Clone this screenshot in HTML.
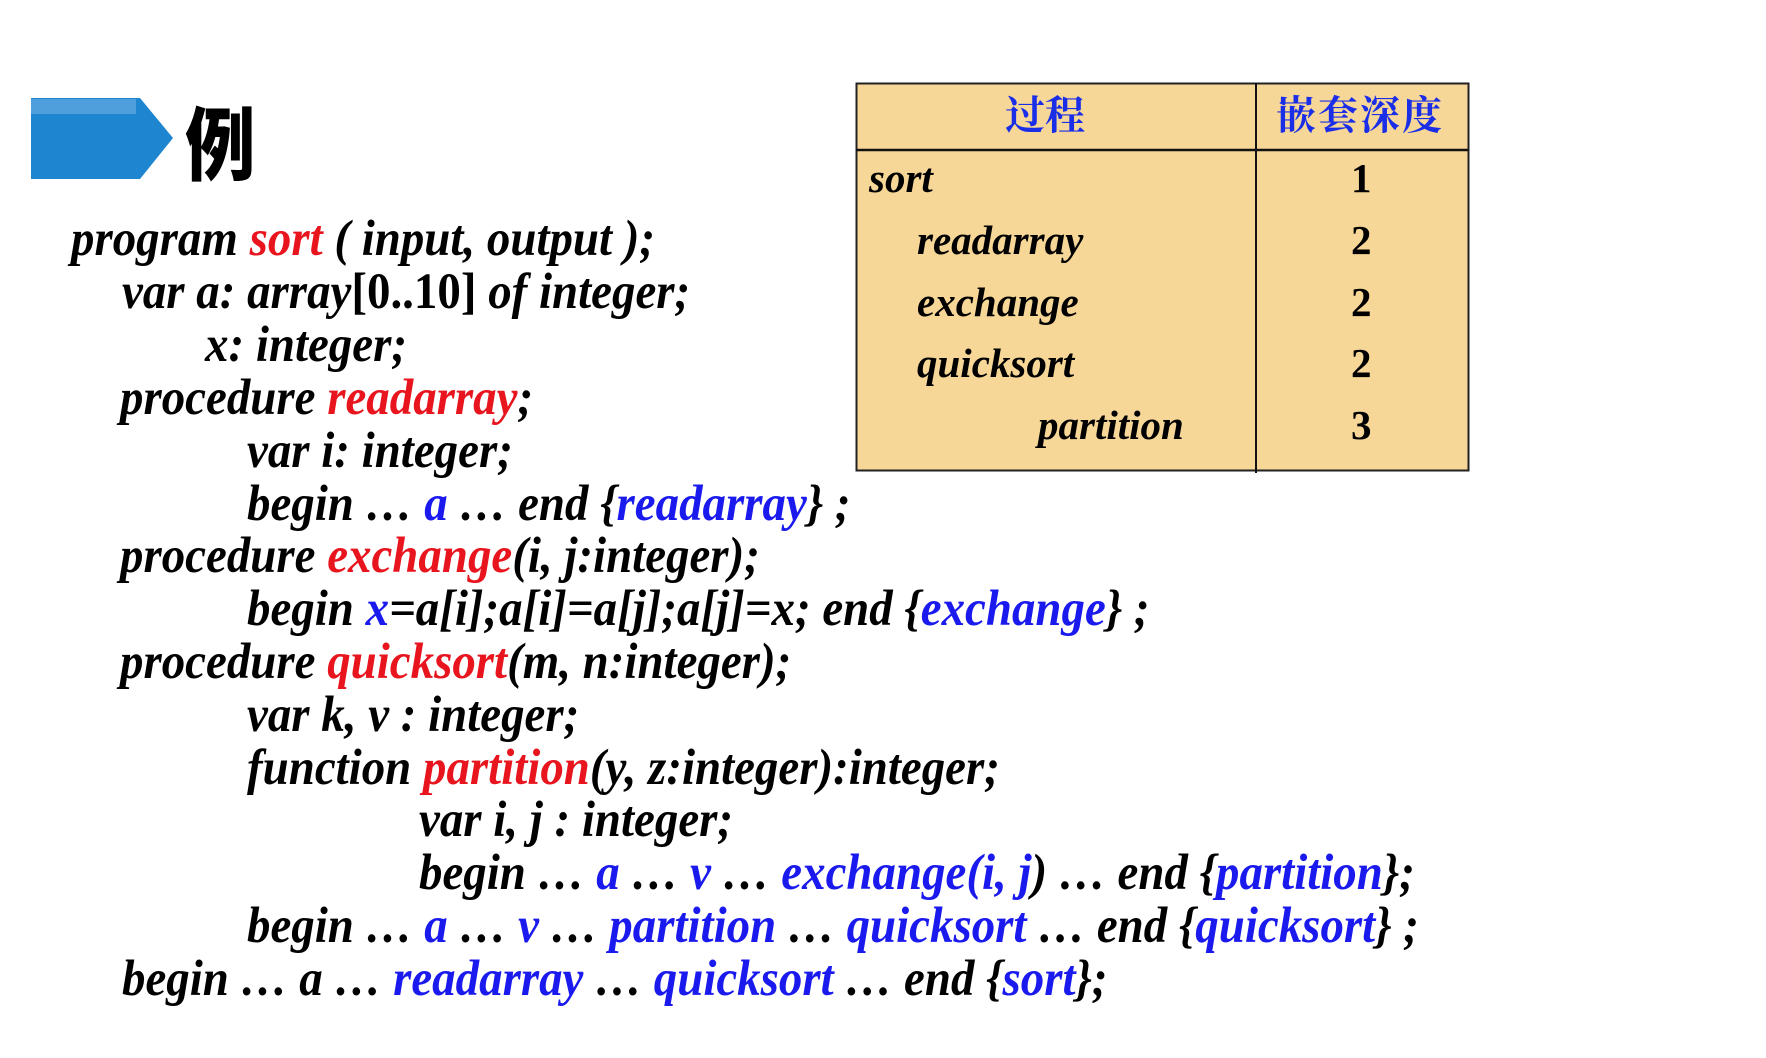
<!DOCTYPE html>
<html><head><meta charset="utf-8"><style>
body{margin:0;width:1766px;height:1058px;background:#fff;position:relative;overflow:hidden}
.c{position:absolute;font-family:"Liberation Serif",serif;font-weight:bold;font-style:italic;font-size:51px;line-height:1;white-space:pre;transform:scaleX(0.92);transform-origin:0 0;color:#000}
.r{color:#e8141e}.b{color:#1a1aee}.n{font-style:normal}
.t{position:absolute;font-family:"Liberation Serif",serif;font-weight:bold;font-style:italic;font-size:41px;line-height:1;color:#000}
.d{position:absolute;font-family:"Liberation Serif",serif;font-weight:bold;font-size:41px;line-height:1;left:1351px}
</style></head><body>
<svg style="position:absolute;left:0;top:0" width="1766" height="1058">
<polygon points="31,98 140,98 173,138 140,179 31,179" fill="#1e86d0"/>
<rect x="31" y="99" width="105" height="15" fill="#6fb0e6" opacity="0.6"/>
<rect x="856.5" y="83.5" width="612" height="387" fill="#f7d797" stroke="#222" stroke-width="2"/>
<line x1="856" y1="150" x2="1468" y2="150" stroke="#111" stroke-width="2.5"/>
<line x1="1256" y1="83" x2="1256" y2="473" stroke="#111" stroke-width="2"/>
</svg>
<div style="position:absolute;left:185px;top:100px;font-family:'Noto Sans CJK SC',sans-serif;font-weight:900;font-size:80px;line-height:1;transform:scaleX(0.88);transform-origin:0 0">例</div>
<div style="position:absolute;left:1005px;top:96px;font-family:'Liberation Serif','Noto Serif CJK SC',serif;font-size:40px;line-height:1;color:#1a2ee8;font-weight:bold">过程</div>
<div style="position:absolute;left:1276px;top:96px;font-family:'Liberation Serif','Noto Serif CJK SC',serif;font-size:40px;line-height:1;color:#1a2ee8;font-weight:bold;letter-spacing:2px">嵌套深度</div>
<div class="t" style="left:869px;top:158px">sort</div>
<div class="t" style="left:917px;top:220px">readarray</div>
<div class="t" style="left:917px;top:282px">exchange</div>
<div class="t" style="left:917px;top:343px">quicksort</div>
<div class="t" style="left:1038px;top:405px">partition</div>
<div class="d" style="top:158px">1</div>
<div class="d" style="top:220px">2</div>
<div class="d" style="top:282px">2</div>
<div class="d" style="top:343px">2</div>
<div class="d" style="top:405px">3</div>

<div class="c" style="left:71px;top:214px">program <span class="r">sort</span> ( input, output );</div>
<div class="c" style="left:122px;top:267px">var a: array<span class="n">[0..10]</span> of integer;</div>
<div class="c" style="left:205px;top:320px">x: integer;</div>
<div class="c" style="left:120px;top:373px">procedure <span class="r">readarray</span>;</div>
<div class="c" style="left:247px;top:426px">var i: integer;</div>
<div class="c" style="left:247px;top:479px">begin … <span class="b">a</span> … end {<span class="b">readarray</span>} ;</div>
<div class="c" style="left:120px;top:531px">procedure <span class="r">exchange</span>(i, j:integer);</div>
<div class="c" style="left:247px;top:584px">begin <span class="b">x</span>=a[i];a[i]=a[j];a[j]=x; end {<span class="b">exchange</span>} ;</div>
<div class="c" style="left:120px;top:637px">procedure <span class="r">quicksort</span>(m, n:integer);</div>
<div class="c" style="left:247px;top:690px">var k, v : integer;</div>
<div class="c" style="left:247px;top:743px">function <span class="r">partition</span>(y, z:integer):integer;</div>
<div class="c" style="left:419px;top:795px">var i, j : integer;</div>
<div class="c" style="left:419px;top:848px">begin … <span class="b">a</span> … <span class="b">v</span> … <span class="b">exchange(i, j</span>) … end {<span class="b">partition</span>};</div>
<div class="c" style="left:247px;top:901px">begin … <span class="b">a</span> … <span class="b">v</span> … <span class="b">partition</span> … <span class="b">quicksort</span> … end {<span class="b">quicksort</span>} ;</div>
<div class="c" style="left:122px;top:954px">begin … a … <span class="b">readarray</span> … <span class="b">quicksort</span> … end {<span class="b">sort</span>};</div>
</body></html>
